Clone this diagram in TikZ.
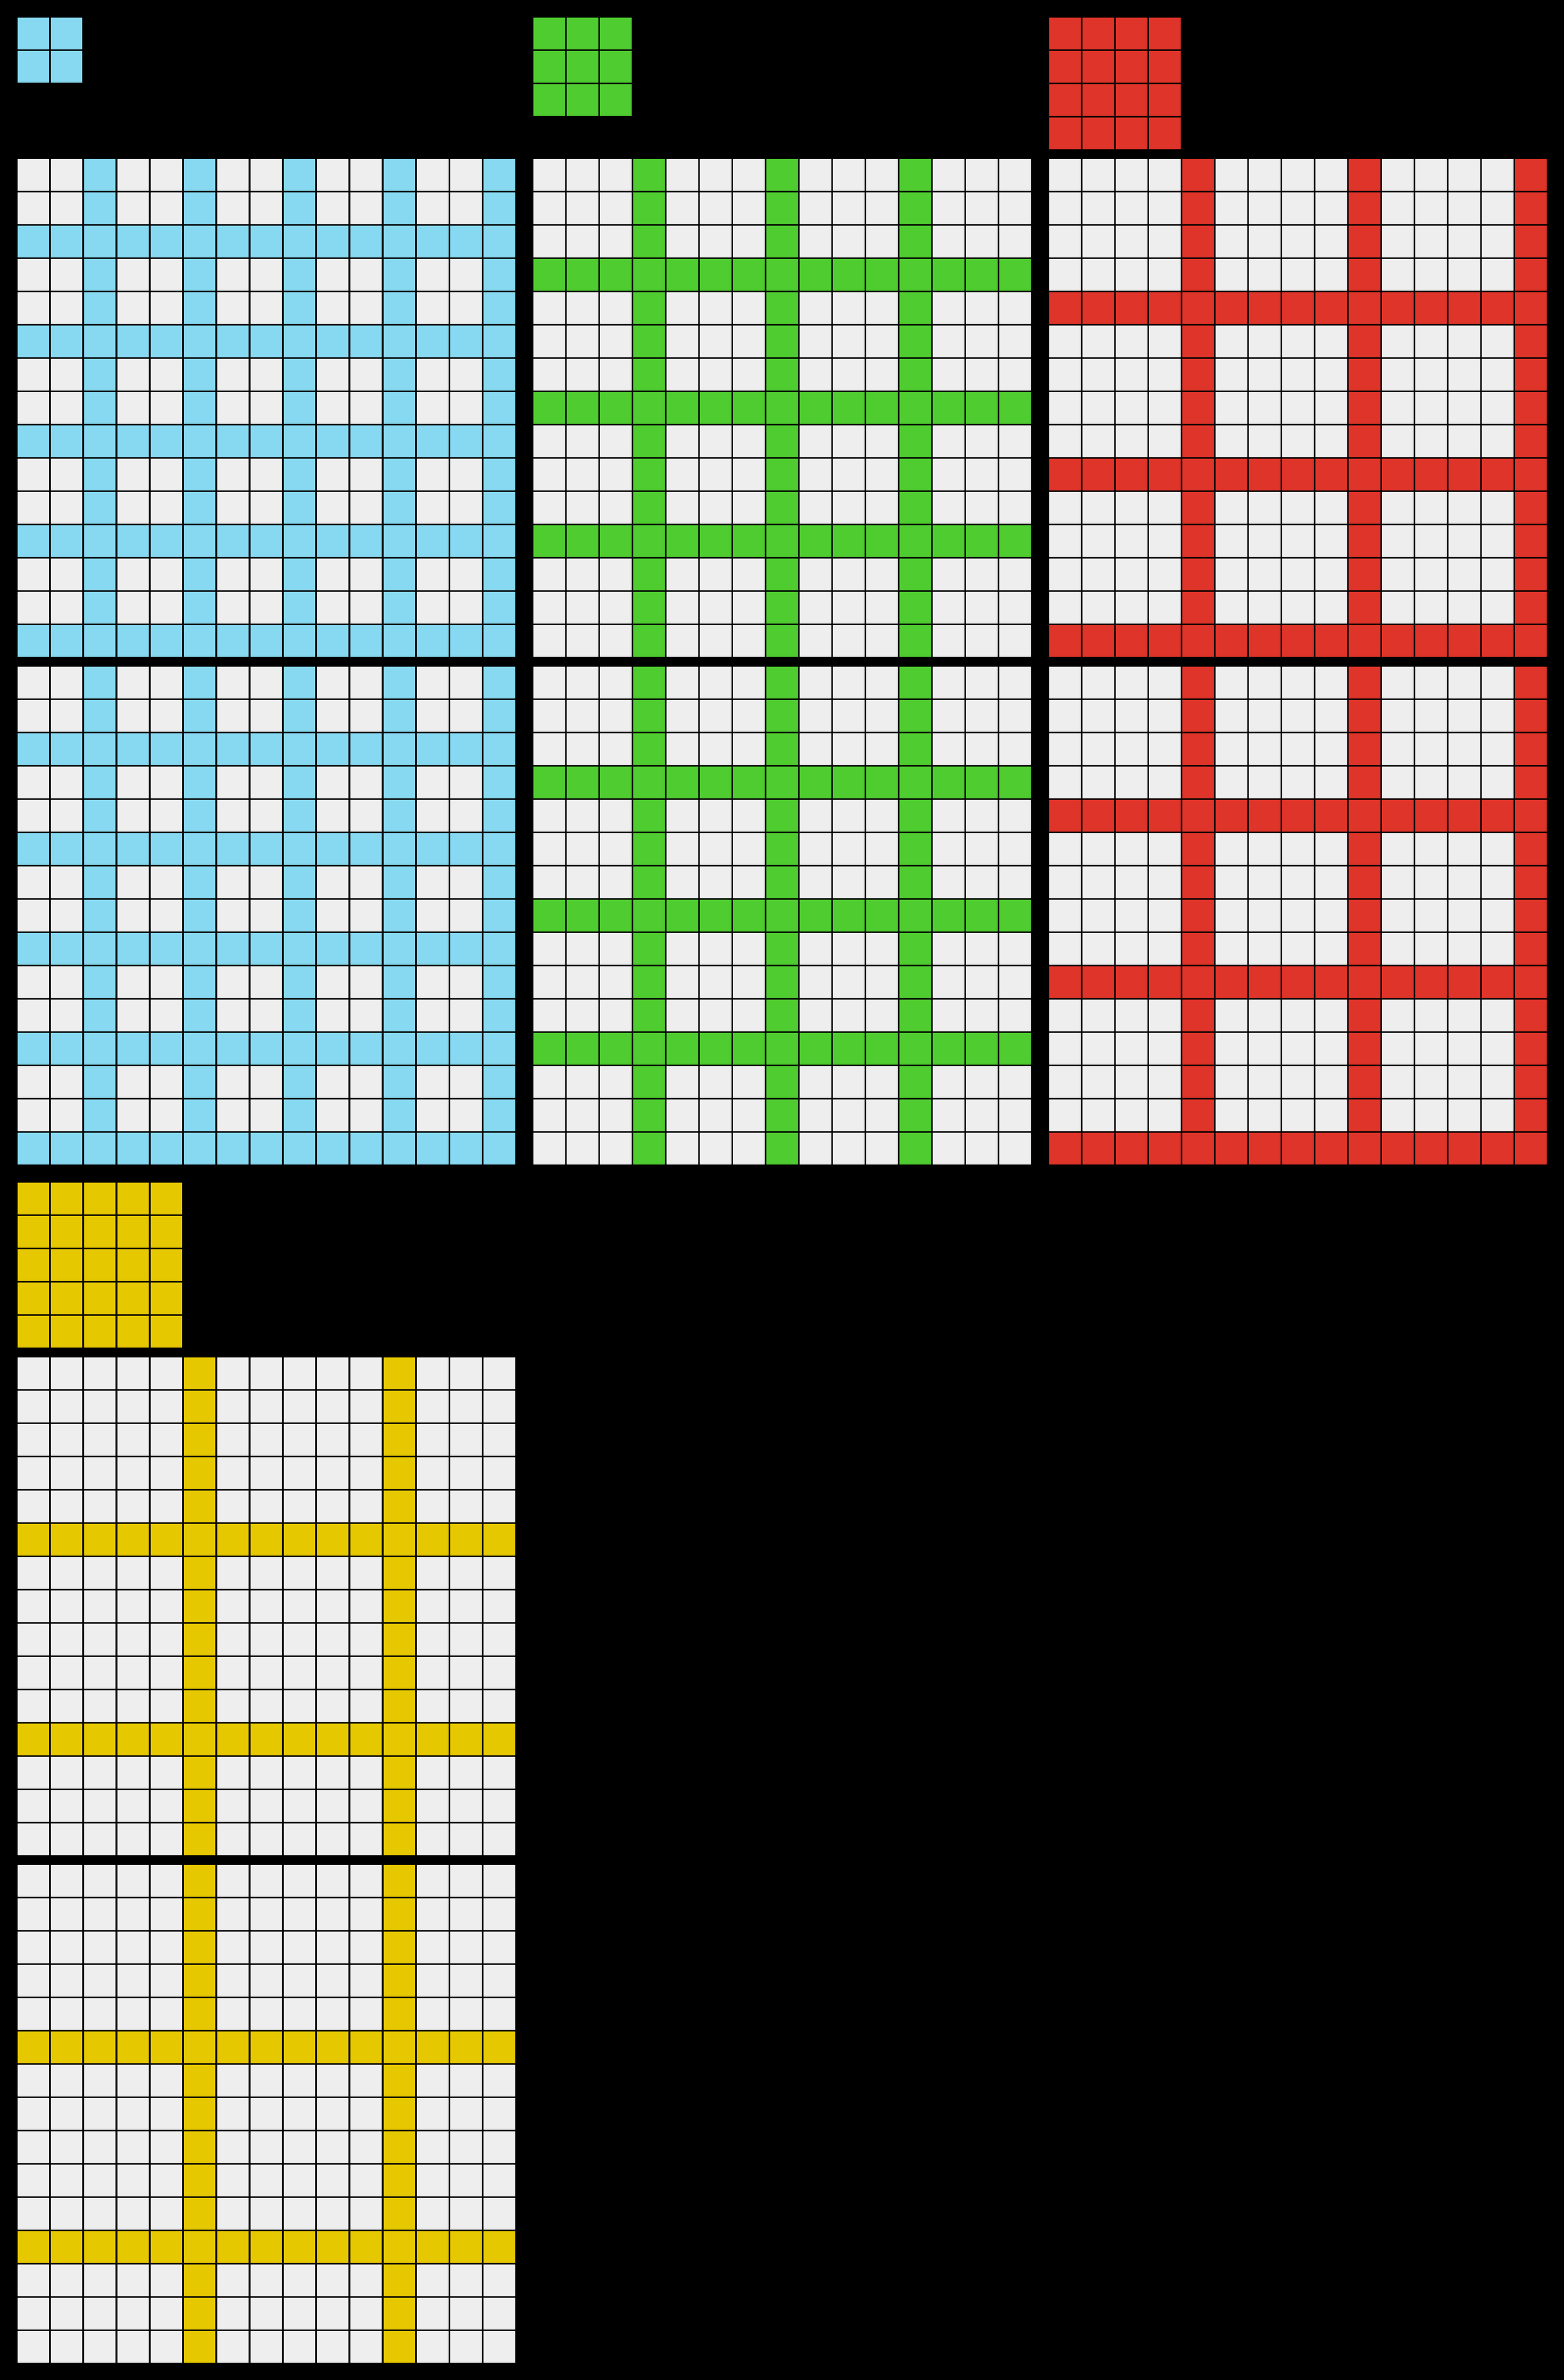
\documentclass[tikz,border=0pt]{standalone}
\usepackage{xcolor}
\usepackage{tikz}

\definecolor{arcgrey}{HTML}{EEEEEE}
\definecolor{arcblue}{HTML}{87D8F1}
\definecolor{arcgreen}{HTML}{4FCC30}
\definecolor{arcred}{HTML}{DF3429}
\definecolor{arcyellow}{HTML}{E6C800}

\begin{document}
\begin{tikzpicture}[scale=.5, cell/.style={draw=black, line width=0.67pt}]
             \fill[black] (0,0) rectangle (47,-71.5);

             % small tiles
             \foreach \gx/\gy/\n/\c in {0.5/0.5/2/arcblue, 16/0.5/3/arcgreen, 31.5/0.5/4/arcred, 0.5/35.5/5/arcyellow} {
                 \foreach \i in {1,...,\n}
                     \foreach \j in {1,...,\n}
                         \filldraw[cell, fill=\c] (\gx+\i-1, -\gy-\j+1) rectangle ++(1,-1);
             }

             % large boards
             \foreach \gx/\gy/\p/\c in {0.5/4.75/3/arcblue, 0.5/20/3/arcblue, 16/4.75/4/arcgreen, 16/20/4/arcgreen, 31.5/4.75/5/arcred, 31.5/20/5/arcred, 0.5/40.75/6/arcyellow, 0.5/56/6/arcyellow} {
                 \foreach \i in {0,...,14}
                     \foreach \j in {0,...,14} {
                         \pgfmathtruncatemacro\hit{(mod(\i,\p)==\p-1)||(mod(\j,\p)==\p-1)}
                         \ifnum\hit=1 \def\fillc{\c}\else\def\fillc{arcgrey}\fi
                         \filldraw[cell, fill=\fillc] (\gx+\i, -\gy-\j) rectangle ++(1,-1);
                     }
             }
             \end{tikzpicture}
\end{document}
